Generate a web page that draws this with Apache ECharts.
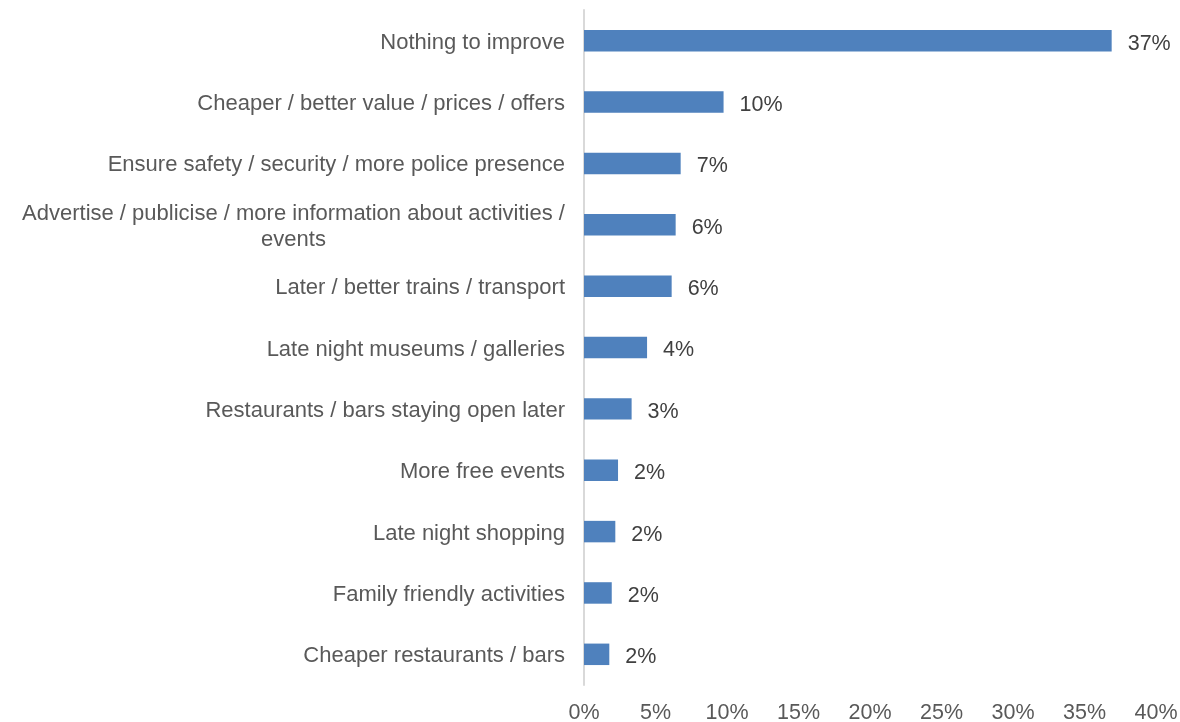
<!DOCTYPE html>
<html>
<head>
<meta charset="utf-8">
<script src="https://cdn.jsdelivr.net/npm/echarts@6/dist/echarts.min.js"></script>
<style>
html,body{margin:0;padding:0;background:#fff;}
#chart{width:1180px;height:722px;}
</style>
</head>
<body>
<div id="chart"></div>
<script>
const categories = [
  "Nothing to improve",
  "Cheaper / better value / prices / offers",
  "Ensure safety / security / more police presence",
  "Advertise / publicise / more information about activities / events",
  "Later / better trains / transport",
  "Late night museums / galleries",
  "Restaurants / bars staying open later",
  "More free events",
  "Late night shopping",
  "Family friendly activities",
  "Cheaper restaurants / bars"
];
const values = [36.9, 9.76, 6.76, 6.41, 6.13, 4.41, 3.33, 2.38, 2.19, 1.94, 1.77];
const axisMin = 0;
const axisMax = 40;
const axisStep = 5;

const font = "'Liberation Sans', Arial, sans-serif";
const catFontSize = 22;
const maxLabelWidth = 560;

const ctx = document.createElement('canvas').getContext('2d');
ctx.font = catFontSize + "px 'Liberation Sans', Arial, sans-serif";
function measure(t) { return ctx.measureText(t).width; }

let richWidth = 0;
function wrapLabel(text) {
  if (measure(text) <= maxLabelWidth) return text;
  const words = text.split(' ');
  const lines = [];
  let cur = '';
  words.forEach(w => {
    const trial = cur ? cur + ' ' + w : w;
    if (measure(trial) > maxLabelWidth && cur) { lines.push(cur); cur = w; }
    else cur = trial;
  });
  if (cur) lines.push(cur);
  const w = Math.ceil(Math.max.apply(null, lines.map(measure)));
  richWidth = Math.max(richWidth, w);
  return lines.map(l => '{c|' + l + '}').join('\n');
}
categories.forEach(c => wrapLabel(c));

const chart = echarts.init(document.getElementById('chart'));
chart.setOption({
  animation: false,
  backgroundColor: '#ffffff',
  grid: { left: 584, right: 24, top: 10, bottom: 37, containLabel: false, outerBoundsMode: 'none' },
  xAxis: {
    type: 'value',
    min: axisMin, max: axisMax, interval: axisStep,
    axisLine: { show: false },
    axisTick: { show: false },
    splitLine: { show: false },
    axisLabel: {
      formatter: v => v + '%',
      color: '#595959',
      fontFamily: font,
      fontSize: 21.5,
      margin: 17
    }
  },
  yAxis: {
    type: 'category',
    data: categories,
    inverse: true,
    axisLine: { show: true, lineStyle: { color: '#d9d9d9', width: 2 } },
    axisTick: { show: false },
    splitLine: { show: false },
    axisLabel: {
      color: '#595959',
      fontFamily: font,
      fontSize: catFontSize,
      margin: 19,
      align: 'right',
      padding: [4, 0, 0, 0],
      formatter: v => wrapLabel(v),
      rich: {
        c: {
          width: richWidth,
          align: 'center',
          color: '#595959',
          fontFamily: font,
          fontSize: catFontSize,
          lineHeight: 26
        }
      }
    }
  },
  series: [{
    type: 'bar',
    data: values,
    barCategoryGap: '65%',
    itemStyle: { color: '#4f81bd' },
    label: {
      show: true,
      position: 'right',
      distance: 16,
      offset: [0, 3],
      formatter: p => Math.round(p.value) + '%',
      color: '#404040',
      fontFamily: font,
      fontSize: 21.5
    }
  }]
});
</script>
</body>
</html>
